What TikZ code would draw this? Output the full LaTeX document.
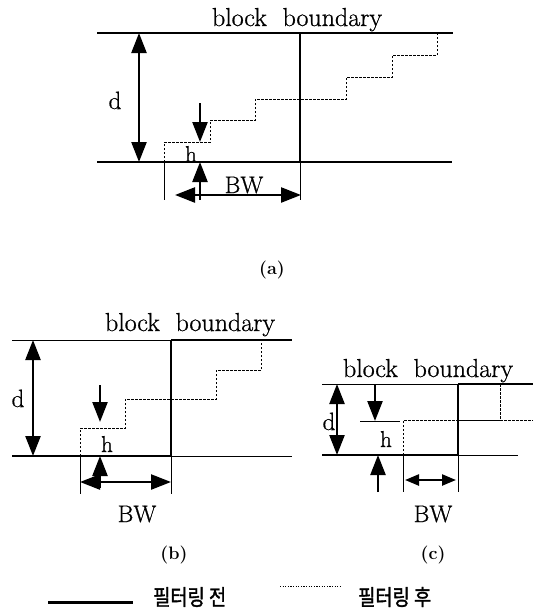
\documentclass[tikz,border=0pt]{standalone}
\usepackage{fontspec}
\newfontfamily\krfont[FakeStretch=0.85,FakeBold=1.5]{Noto Sans CJK KR}
\newfontfamily\lmfb[FakeBold=0.8]{Latin Modern Roman}
\usetikzlibrary{arrows.meta}
\begin{document}
\begin{tikzpicture}[x=1pt,y=-1pt,
  thinln/.style={line width=1pt},
  medln/.style={line width=1.8pt},
  thickln/.style={line width=2.8pt},
  filt/.style={line width=1pt,dash pattern=on 2.5pt off 1.5pt},
  tipa/.tip={Triangle[length=20pt,width=15pt]},
  tipc/.tip={Triangle[length=14pt,width=11pt]},
  onearr/.style={line width=2.4pt,-tipa},
  dimarr/.style={line width=2.4pt,tipa-tipa},
  smallarr/.style={line width=2.4pt,tipc-tipc},
  lbl/.style={inner sep=0pt,anchor=base,font=\lmfb\fontsize{26}{30}\selectfont},
  dsym/.style={inner sep=0pt,anchor=base,font=\lmfb\fontsize{25}{29}\selectfont},
  hsym/.style={inner sep=0pt,anchor=base,font=\lmfb\fontsize{23}{27}\selectfont},
  bwl/.style={inner sep=0pt,anchor=base,font=\lmfb\fontsize{24}{28}\selectfont},
  capl/.style={inner sep=0pt,font=\bfseries\fontsize{18}{21}\selectfont},
  legl/.style={inner sep=0pt,anchor=west,font=\krfont\fontsize{22}{26}\selectfont}]
\useasboundingbox (0,0) rectangle (541,608);

% ---------------- panel (a) ----------------
\coordinate (aTL) at (97,33);  \coordinate (aTR) at (453,33);
\coordinate (aBL) at (97,162); \coordinate (aBR) at (452,162);
\coordinate (aVT) at (300,33); \coordinate (aVB) at (300,162); \coordinate (aVX) at (300,200);
\coordinate (aS0) at (164,162); \coordinate (aSX) at (164,200);
\draw[medln] (aTL) -- (aTR);
\draw[medln] (aBL) -- (aBR);
\draw[thickln] (aVT) -- (aVB);
\draw[thinln] (aVB) -- (aVX);
\draw[filt] (aS0) -- (164,142) -- (210,142) -- (210,120) -- (255,120) -- (255,99)
  -- (346,99) -- (346,77) -- (392,77) -- (392,55) -- (437,55) -- (437,33);
\draw[thinln] (aS0) -- (aSX);
\coordinate (adT) at (139,33); \coordinate (adB) at (139,162);
\draw[dimarr] (adT) -- (adB);
\node[lbl] (aTitle) at (297,26) {block\ \ boundary};
\node[dsym] (ad) at (115,109) {d};
\node[hsym] (ah) at (191,162) {h};
\coordinate (ahT) at (200,103); \coordinate (ahM) at (200,142);
\coordinate (ahU) at (200,200); \coordinate (ahN) at (200,162);
\draw[onearr] (ahT) -- (ahM);
\draw[onearr] (ahU) -- (ahN);
\coordinate (abL) at (175,195); \coordinate (abR) at (301,195);
\draw[dimarr] (abL) -- (abR);
\node[bwl] (aBW) at (244,193) {BW};
\node[capl] (acap) at (272,270) {(a)};

% ---------------- panel (b) ----------------
\coordinate (bTL) at (12,340);  \coordinate (bTM) at (171,340); \coordinate (bTR) at (292,340);
\coordinate (bBL) at (12,456);  \coordinate (bBM) at (171,456); \coordinate (bBR) at (292,456);
\coordinate (bVX) at (171,494);
\coordinate (bS0) at (80,456); \coordinate (bSX) at (80,494);
\draw[thinln] (bTL) -- (bTM);
\draw[thickln] (bTM) -- (bTR);
\draw[thickln] (bBL) -- (bBM);
\draw[thinln] (bBM) -- (bBR);
\draw[thickln] (bTM) -- (bBM);
\draw[thinln] (bBM) -- (bVX);
\draw[filt] (bS0) -- (80,428) -- (125,428) -- (125,399) -- (216,399) -- (216,370)
  -- (261,370) -- (261,340);
\draw[thinln] (bS0) -- (bSX);
\coordinate (bdT) at (33,340); \coordinate (bdB) at (33,456);
\draw[dimarr] (bdT) -- (bdB);
\node[lbl] (bTitle) at (190,331) {block\ \ boundary};
\node[dsym] (bd) at (18,407) {d};
\node[hsym] (bh) at (107,452) {h};
\coordinate (bhT) at (100,385); \coordinate (bhM) at (100,422);
\coordinate (bhU) at (100,488); \coordinate (bhN) at (100,456);
\draw[onearr] (bhT) -- (bhM);
\draw[onearr] (bhU) -- (bhN);
\coordinate (bbL) at (80,482); \coordinate (bbR) at (171,482);
\draw[dimarr] (bbL) -- (bbR);
\node[bwl] (bBW) at (137,522) {BW};
\node[capl] (bcap) at (174,555) {(b)};

% ---------------- panel (c) ----------------
\coordinate (cTL) at (322,384); \coordinate (cTM) at (458,384); \coordinate (cTR) at (533,384);
\coordinate (cBL) at (322,455); \coordinate (cBM) at (458,455); \coordinate (cBR) at (518,455);
\coordinate (cVX) at (458,492);
\coordinate (cS0) at (403,455); \coordinate (cSX) at (403,492);
\draw[thinln] (cTL) -- (cTM);
\draw[thickln] (cTM) -- (cTR);
\draw[thickln] (cBL) -- (cBM);
\draw[thinln] (cBM) -- (cBR);
\draw[thickln] (cTM) -- (cBM);
\draw[thinln] (cBM) -- (cVX);
\draw[filt] (cS0) -- (403,420) -- (458,420);
\draw[thinln] (458,420) -- (500,420);
\draw[filt] (500,384) -- (500,420) -- (533,420);
\draw[thinln] (cS0) -- (cSX);
\coordinate (cdT) at (337,384); \coordinate (cdB) at (337,455);
\draw[dimarr] (cdT) -- (cdB);
\node[lbl] (cTitle) at (428,377) {block\ \ boundary};
\node[dsym] (cd) at (329,430) {d};
\coordinate (chL) at (360,421); \coordinate (chR) at (400,421);
\draw[thinln] (chL) -- (chR);
\coordinate (chT) at (375,385); \coordinate (chM) at (375,421);
\coordinate (chU) at (378,492); \coordinate (chN) at (378,455);
\draw[onearr] (chT) -- (chM);
\draw[onearr] (chU) -- (chN);
\node[hsym] (ch) at (386,447) {h};
\coordinate (cbL) at (405,480); \coordinate (cbR) at (456,480);
\draw[smallarr] (cbL) -- (cbR);
\node[bwl] (cBW) at (433,522) {BW};
\node[capl] (ccap) at (433,555) {(c)};

% ---------------- legend ----------------
\coordinate (l1a) at (48,602); \coordinate (l1b) at (133,602);
\draw[line width=3pt] (l1a) -- (l1b);
\node[legl] (leg1) at (153,597) {필터링 전};
\coordinate (l2a) at (280,586); \coordinate (l2b) at (342,586);
\draw[line width=1pt,dash pattern=on 1.2pt off 1.4pt] (l2a) -- (l2b);
\node[legl] (leg2) at (358,597) {필터링 후};
\end{tikzpicture}
\end{document}
